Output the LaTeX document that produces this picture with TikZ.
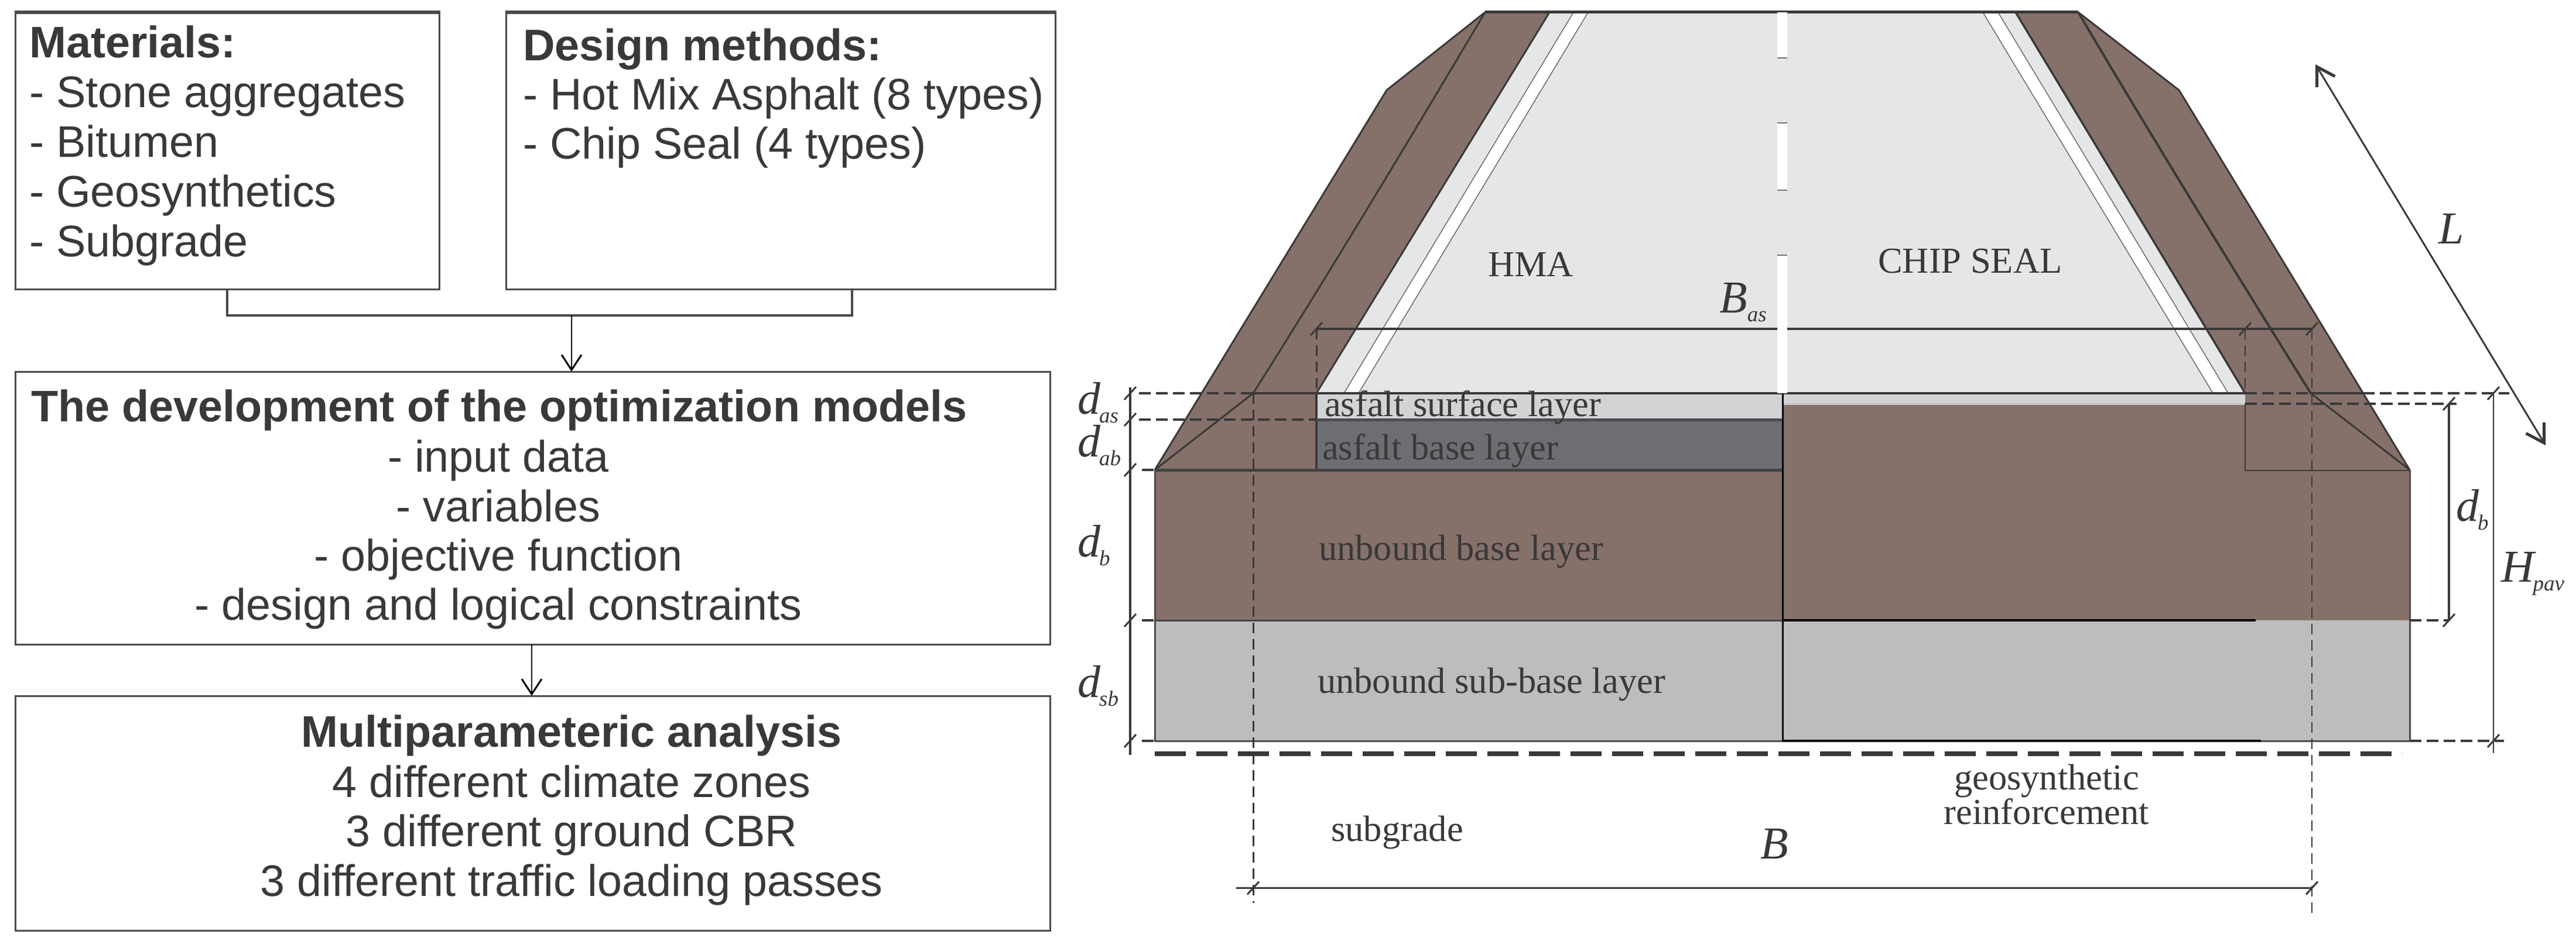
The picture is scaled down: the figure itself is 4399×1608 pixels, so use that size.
\documentclass[tikz,border=0pt]{standalone}
\usepackage{fontspec}
\setmainfont{Liberation Serif}
\newfontfamily\arialf{Liberation Sans}
\usetikzlibrary{arrows.meta}
\definecolor{ink}{HTML}{3A3838}
\definecolor{brownfill}{HTML}{85716A}
\definecolor{roadgrey}{HTML}{E5E6E8}
\definecolor{surfgrey}{HTML}{D1D3D4}
\definecolor{basegrey}{HTML}{6D6E71}
\definecolor{subgrey}{HTML}{BCBDBF}
\definecolor{boxline}{HTML}{4A4A4A}
\tikzset{
  box/.style={draw=boxline,line width=3pt,fill=none,inner sep=0pt,minimum width=#1},
  sans/.style={inner sep=0pt,text=ink,font=\arialf\fontsize{75.5}{84}\selectfont},
  sansb/.style={inner sep=0pt,text=ink,font=\arialf\bfseries\fontsize{75.5}{84}\selectfont},
  lab/.style={inner sep=0pt,anchor=base west,text=ink,font=\fontsize{62.5}{70}\selectfont},
  sym/.style={inner sep=0pt,anchor=base west,text=ink,font=\itshape\fontsize{78}{86}\selectfont},
  flow/.style={draw=black,line width=2.5pt,-{Straight Barb[length=26pt,width=34pt,line width=3pt]}},
  conn/.style={draw=boxline,line width=3.5pt},
  edge/.style={draw=ink,line width=3pt,line join=round},
  thin line/.style={draw=ink!75,line width=1.5pt},
  dim/.style={draw=ink,line width=3.5pt},
  tick/.style={draw=ink,line width=3pt},
  hdash/.style={draw=ink,line width=4pt,dash pattern=on 20pt off 9pt},
  vdash/.style={draw=ink,line width=3pt,dash pattern=on 18pt off 10pt},
}
\newcommand{\dsub}[2]{#1\raisebox{-15pt}{\fontsize{37}{40}\selectfont #2}}
\begin{document}
\begin{tikzpicture}[x=1pt,y=-1pt]
\useasboundingbox (0,0) rectangle (4399,1608);

% ---------- left flow chart
\node[box=724pt,minimum height=471pt] (mat) at (388,258.5) {};
\node[box=938pt,minimum height=471pt] (des) at (1333,258.5) {};
\node[box=1767pt,minimum height=466pt] (dev) at (909.5,868) {};
\node[box=1767pt,minimum height=401pt] (mul) at (909.5,1389.5) {};
\draw[boxline,line width=6pt] (mat.north west) -- (mat.north east);
\draw[boxline,line width=6pt] (des.north west) -- (des.north east);

\coordinate (desout) at (1455,494);
\coordinate (junc) at (976,539);
\coordinate (devin) at (976,635);
\coordinate (devout) at (908,1101);
\coordinate (mulin) at (908,1189);
\draw[conn] (mat.south) |- (junc) -| (desout);
\draw[flow] (junc) -- (devin);
\draw[flow] (devout) -- (mulin);

\node[sansb,anchor=base west] (t1) at (50,99) {Materials:};
\node[sans,anchor=base west] (t2) at (50,184) {- Stone aggregates};
\node[sans,anchor=base west] (t3) at (50,269) {- Bitumen};
\node[sans,anchor=base west] (t4) at (50,353) {- Geosynthetics};
\node[sans,anchor=base west] (t5) at (50,438) {- Subgrade};
\node[sansb,anchor=base west] (t6) at (893,104) {Design methods:};
\node[sans,anchor=base west] (t7) at (893,188) {- Hot Mix Asphalt (8 types)};
\node[sans,anchor=base west] (t8) at (893,272) {- Chip Seal (4 types)};
\node[sansb,anchor=base west] (t9) at (53,720) {The development of the optimization models};
\node[sans,anchor=base] (t10) at (851,806) {- input data};
\node[sans,anchor=base] (t11) at (851,891) {- variables};
\node[sans,anchor=base] (t12) at (851,975) {- objective function};
\node[sans,anchor=base] (t13) at (851,1059) {- design and logical constraints};
\node[sansb,anchor=base] (t14) at (976,1276) {Multiparameteric analysis};
\node[sans,anchor=base] (t15) at (976,1362) {4 different climate zones};
\node[sans,anchor=base] (t16) at (976,1446) {3 different ground CBR};
\node[sans,anchor=base] (t17) at (976,1531) {3 different traffic loading passes};

% ---------- road: fills
\fill[roadgrey] (2646,21) -- (3442,21) -- (3834,672) -- (2248,672) -- cycle;
\fill[white] (2687,21) -- (2712,21) -- (2320,672) -- (2295,672) -- cycle;
\fill[white] (3386,21) -- (3412,21) -- (3805,672) -- (3779,672) -- cycle;
\draw[thin line] (2687,21) -- (2295,672);
\draw[thin line] (2712,21) -- (2320,672);
\draw[thin line] (3386,21) -- (3779,672);
\draw[thin line] (3412,21) -- (3805,672);
% left shoulder
\fill[brownfill] (2536,21) -- (2368,154) -- (1972,803) -- (2248,803) -- (2248,672) -- (2646,21) -- cycle;
% right half
\fill[brownfill] (3442,21) -- (3549,21) -- (3721,154) -- (4115,803) -- (4115,1060) -- (3044,1060) -- (3044,690) -- (3834,690) -- (3834,672) -- cycle;
\fill[brownfill] (1972,803) rectangle (3044,1060);
\fill[surfgrey] (2248,672) rectangle (3044,717);
\fill[basegrey] (2248,717) rectangle (3044,803);
\fill[surfgrey] (3044,672) rectangle (3834,690);
\fill[subgrey] (1972,1060) rectangle (4115,1266);
\draw[draw=white!60!brownfill,line width=3pt] (3044,690) -- (3834,690);

% ---------- road: outlines
\draw[edge] (2646,21) -- (2248,672);
\draw[edge,line width=3.5pt] (3442,21) -- (3834,672);
\draw[edge] (2536,21) -- (2368,154) -- (1972,803);
\draw[edge] (3549,21) -- (3721,154) -- (4115,803);
\draw[edge] (2536,21) .. controls (2406,240) and (2274,460) .. (2140,672) -- (1972,803);
\draw[edge,line width=4pt] (3549,21) .. controls (3678,240) and (3814,460) .. (3946,672);
\draw[edge] (3946,672) -- (4115,803);
\draw[draw=ink,line width=5pt] (2536,21) -- (3549,21);
\draw[edge,line width=4pt] (2140,672) -- (2248,672);
\draw[edge,line width=4pt] (2248,672) -- (3834,672);
\draw[edge,line width=4pt] (3946,672) -- (4035,672);
\draw[edge,line width=4pt] (2248,672) -- (2248,803);
\draw[draw=basegrey!70!black,line width=5pt] (2248,717) -- (3044,717);
\draw[draw=basegrey!60!black,line width=5pt] (1972,803) -- (3044,803);
\draw[thin line,draw=ink] (3834,690) -- (3834,804) -- (4115,804);
\draw[draw=ink!70!brownfill,line width=3pt] (1972,803) -- (1972,1266) -- (4115,1266) -- (4115,803);
\draw[draw=ink!80!brownfill,line width=3pt] (1972,1060) -- (3044,1060);
\draw[draw=black,line width=3.5pt] (3044,1060) -- (3852,1060);
\draw[draw=black,line width=3.5pt] (3044,1266) -- (3861,1266);
\draw[draw=black,line width=3pt] (3044,672) -- (3044,1266);

% ---------- dimension lines
\coordinate (bl) at (2140,1517.5);
\coordinate (br) at (3948,1517.5);
\coordinate (bal) at (2248,562);
\coordinate (bam) at (3834,562);
\coordinate (bar) at (3948,562);
\draw[dim] (2111,1517.5) -- (br);
\draw[dim] (bal) -- (bar);
\draw[dim] (1930,662) -- (1930,1290);
\draw[dim] (4182,690) -- (4182,1060);
\draw[dim,line width=2.5pt] (4258,672) -- (4258,1287);
\draw[vdash] (2248,562) -- (2248,672);
\draw[vdash,line width=2pt] (3834,562) -- (3834,672);
\draw[vdash] (2140,672) -- (2140,1543);
\draw[vdash,line width=2pt] (3948,562) -- (3948,1565);
\draw[hdash] (1945,672) -- (2140,672);
\draw[hdash] (1945,717) -- (2248,717);
\draw[hdash] (3834,672) -- (3946,672);
\draw[hdash] (4035,672) -- (4285,672);
\draw[hdash] (3834,690) -- (4195,690);
\draw[hdash] (1950,803) -- (1972,803);
\draw[hdash] (1950,1060) -- (1972,1060);
\draw[hdash] (1950,1266) -- (1972,1266);
\draw[hdash] (4115,1060) -- (4182,1060);
\draw[hdash] (4115,1266) -- (4276,1266);
\foreach \px/\py in {1930/672,1930/717,1930/803,1930/1060,1930/1266,2140/1517.5,3948/1517.5,2248/562,3834/562,3948/562,4182/690,4258/672,4182/1060,4258/1266}
  \draw[tick] (\px-10,\py+11) -- (\px+10,\py-11);
\draw[draw=ink,line cap=butt,line width=8pt,dash pattern=on 53pt off 18pt] (1972,1288) -- (4102,1288);

% centre line dashes
\fill[white] (3035,21) rectangle (3052,99);
\fill[white] (3035,210) rectangle (3052,325);
\fill[white] (3035,436) rectangle (3052,672);
\draw[draw=ink!70,line width=2pt] (3035,99) -- (3052,99);
\draw[draw=ink!70,line width=2pt] (3035,210) -- (3052,210) (3035,325) -- (3052,325);
\draw[draw=ink!70,line width=2pt] (3035,436) -- (3052,436);

% L arrow
\coordinate (la) at (3954,110);
\coordinate (lb) at (4347,761);
\draw[draw=ink,line width=3pt,{Straight Barb[length=30pt,width=36pt,line width=5pt]}-{Straight Barb[length=30pt,width=36pt,line width=5pt]}] (la) -- (lb);

% ---------- labels
\node[lab] (hma) at (2541,472) {HMA};
\node[lab] (chip) at (3207,466) {CHIP SEAL};
\node[lab] (l1) at (2262,711) {asfalt surface layer};
\node[lab] (l2) at (2258,785) {asfalt base layer};
\node[lab] (l3) at (2252,957) {unbound base layer};
\node[lab] (l4) at (2250,1184) {unbound sub-base layer};
\node[lab] (l5) at (2273,1437) {subgrade};
\node[lab,anchor=base] (l6) at (3495,1349) {geosynthetic};
\node[lab,anchor=base] (l7) at (3495,1408) {reinforcement};
\node[sym] (sB) at (3006,1467) {B};
\node[sym] (sBas) at (2936,534) {\dsub{B}{as}};
\node[sym] (sdas) at (1840,707) {\dsub{d\kern-2pt}{as}};
\node[sym] (sdab) at (1840,780) {\dsub{d\kern-2pt}{ab}};
\node[sym] (sdb) at (1840,951) {\dsub{d\kern-2pt}{b}};
\node[sym] (sdsb) at (1840,1191) {\dsub{d\kern-2pt}{sb}};
\node[sym] (sdbr) at (4194,890) {\dsub{d\kern-2pt}{b}};
\node[sym] (sH) at (4271,994) {\dsub{H\kern-2pt}{pav}};
\node[sym] (sL) at (4164,416) {L};
\end{tikzpicture}
\end{document}
